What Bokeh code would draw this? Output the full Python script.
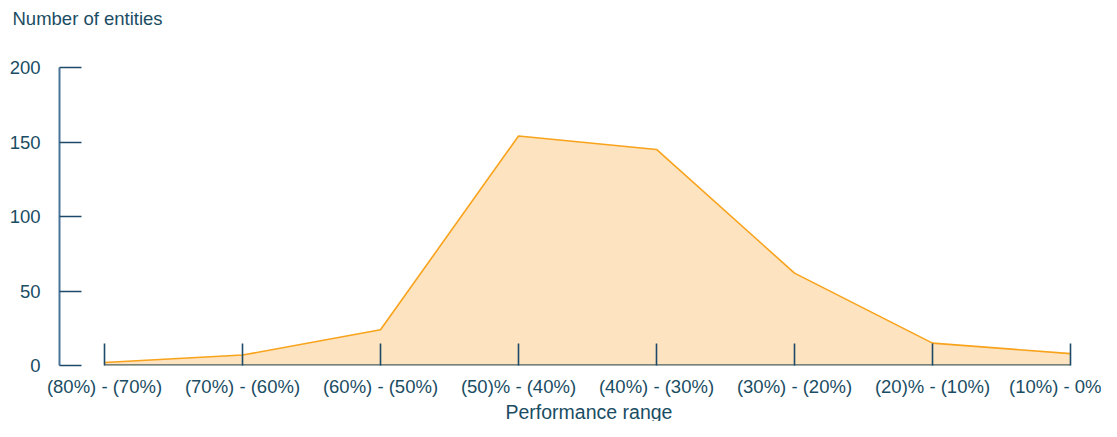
from bokeh.plotting import figure
from bokeh.models import Range1d, FixedTicker, ColumnDataSource, Title
from bokeh.embed import file_html
from bokeh.resources import INLINE

categories = ["(80%) - (70%)", "(70%) - (60%)", "(60%) - (50%)", "(50)% - (40%)",
              "(40%) - (30%)", "(30%) - (20%)", "(20)% - (10%)", "(10%) - 0%"]
entities = [2, 7, 24, 154, 145, 62, 15, 8]
y_ticks = [0, 50, 100, 150, 200]
y_title = "Number of entities"
x_title = "Performance range"

TEXT = "#1a4d63"
FONT = "Liberation Sans"
FS = "18.5px"

xs = list(range(len(categories)))
src = ColumnDataSource(dict(x=xs, y=entities, base=[0] * len(xs)))

p = figure(width=1101, height=421, output_backend="svg", toolbar_location=None, title=None,
           x_range=Range1d(-0.3261, 7.2246), y_range=Range1d(0, 200),
           min_border_left=59, min_border_right=0, min_border_top=67, min_border_bottom=56)
p.outline_line_color = None
p.grid.visible = False
p.background_fill_color = "white"

# spacer (closest to the frame) then the real title above it
p.add_layout(Title(text=" ", standoff=16, text_font=FONT, text_font_size=FS), "above")
p.add_layout(Title(text=y_title, align="left", offset=-47, standoff=0,
                   text_color=TEXT, text_font=FONT, text_font_size=FS,
                   text_font_style="normal"), "above")

p.add_layout(Title(text=x_title, align="left", offset=446, standoff=-2,
                   text_color=TEXT, text_font=FONT, text_font_size="19.5px",
                   text_font_style="normal"), "below")

p.varea(x="x", y1="base", y2="y", source=src, fill_color="#fde3c0", fill_alpha=1.0)
p.line(x="x", y="y", source=src, line_color="#f8a31b", line_width=1.6)
p.line(x="x", y="base", source=src, line_color="#4d6262", line_width=2.5)

xa = p.xaxis[0]
xa.ticker = FixedTicker(ticks=xs)
xa.major_label_overrides = {i: c for i, c in enumerate(categories)}
xa.axis_line_color = None
xa.major_tick_in = 22
xa.major_tick_out = 0
xa.major_tick_line_color = "#1d4a68"
xa.major_tick_line_width = 1.6
xa.minor_tick_line_color = None
xa.major_label_text_color = TEXT
xa.major_label_text_font = FONT
xa.major_label_text_font_size = FS
xa.major_label_standoff = 10

ya = p.yaxis[0]
ya.ticker = FixedTicker(ticks=y_ticks)
ya.axis_line_color = "#4a7599"
ya.axis_line_width = 2
ya.major_tick_in = 22
ya.major_tick_out = 0
ya.major_tick_line_color = "#1d4a68"
ya.major_tick_line_width = 1.6
ya.minor_tick_line_color = None
ya.major_label_text_color = TEXT
ya.major_label_text_font = FONT
ya.major_label_text_font_size = FS
ya.major_label_standoff = 19

open("out.html", "w").write(file_html(p, INLINE))
